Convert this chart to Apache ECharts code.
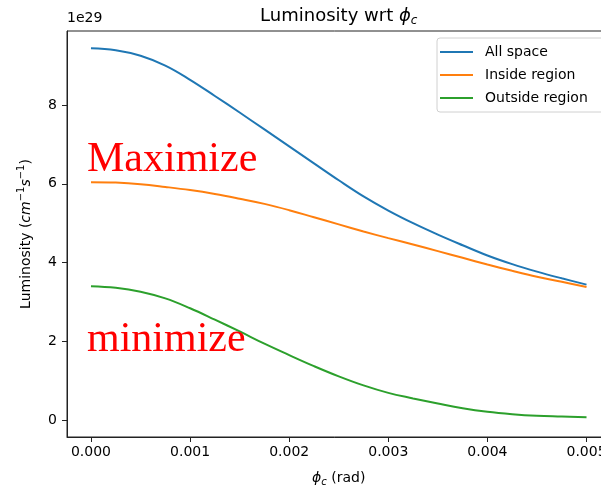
<!DOCTYPE html>
<html>
<head>
<meta charset="utf-8">
<script src="https://cdn.jsdelivr.net/npm/echarts@6/dist/echarts.min.js"></script>
<style>
html,body{margin:0;padding:0;background:#fff;}
#chart{width:601px;height:486px;}
</style>
</head>
<body>
<div id="chart"></div>
<script>
// ---- data (values in units of 1e29) ----
const phiC = [0, 0.00025, 0.0005, 0.00075, 0.001, 0.00125, 0.0015, 0.00175, 0.002, 0.00225, 0.0025,
              0.00275, 0.003, 0.00325, 0.0035, 0.00375, 0.004, 0.00425, 0.0045, 0.00475, 0.005];
const allSpace = [9.44, 9.39, 9.25, 9.00, 8.64, 8.23, 7.81, 7.38, 6.95, 6.52, 6.09,
                  5.68, 5.32, 5.00, 4.71, 4.44, 4.18, 3.96, 3.77, 3.60, 3.44];
const insideRegion = [6.04, 6.03, 5.99, 5.92, 5.84, 5.74, 5.62, 5.49, 5.33, 5.15, 4.97,
                      4.79, 4.62, 4.46, 4.29, 4.12, 3.95, 3.79, 3.64, 3.51, 3.38];
const outsideRegion = [3.40, 3.36, 3.26, 3.09, 2.84, 2.55, 2.25, 1.94, 1.65, 1.37, 1.11,
                       0.88, 0.69, 0.55, 0.42, 0.30, 0.21, 0.15, 0.11, 0.09, 0.07];
const seriesNames = ['All space', 'Inside region', 'Outside region'];
const xTicks = [0, 0.001, 0.002, 0.003, 0.004, 0.005];
const yTicks = [0, 2, 4, 6, 8];
const offsetText = '1e29';
const annotations = ['Maximize', 'minimize'];

const colors = ['#1f77b4', '#ff7f0e', '#2ca02c'];
const seriesValues = [allSpace, insideRegion, outsideRegion];

const chart = echarts.init(document.getElementById('chart'), null, {renderer: 'canvas'});
const font = 'DejaVu Sans';
const axisColor = '#222';

const option = {
  animation: false,
  backgroundColor: '#fff',
  textStyle: {fontFamily: font},
  title: {
    text: '{n|Luminosity wrt }{i|ϕ}{s|c}',
    left: 338.75,
    textAlign: 'center',
    top: 5,
    padding: 0,
    textStyle: {
      fontFamily: font, fontSize: 18, fontWeight: 'normal', color: '#000',
      rich: {
        n: {fontFamily: font, fontSize: 18, color: '#000', lineHeight: 22},
        i: {fontFamily: font, fontSize: 18, fontStyle: 'italic', color: '#000', lineHeight: 22},
        s: {fontFamily: font, fontSize: 12, fontStyle: 'italic', color: '#000', verticalAlign: 'bottom', lineHeight: 14}
      }
    }
  },
  legend: {
    data: seriesNames,
    left: 437,
    top: 38,
    orient: 'vertical',
    padding: [6, 20, 6, 3],
    itemGap: 7,
    itemWidth: 33,
    itemHeight: 2,
    icon: 'rect',
    borderColor: '#d0d0d0',
    borderWidth: 1,
    borderRadius: 3,
    backgroundColor: 'rgba(255,255,255,0.8)',
    textStyle: {fontFamily: font, fontSize: 14, color: '#000', lineHeight: 16, padding: [0, 0, 0, 7]}
  },
  grid: {
    left: 67, top: 31, width: 543.5, height: 406,
    show: true, borderColor: axisColor, borderWidth: 1,
    backgroundColor: 'transparent',
    outerBoundsMode: 'none',
    containLabel: false
  },
  xAxis: {
    type: 'value',
    min: -0.000242,
    max: 0.005242,
    splitLine: {show: false},
    axisLine: {show: true, onZero: false, lineStyle: {color: axisColor, width: 1}},
    axisTick: {show: true, inside: false, length: 5, customValues: xTicks, lineStyle: {color: axisColor}},
    axisLabel: {
      customValues: xTicks, margin: 8, fontFamily: font, fontSize: 14, color: '#000',
      showMinLabel: true, showMaxLabel: true,
      formatter: v => v.toFixed(3)
    },
    name: '{i|ϕ}{s|c}{n| (rad)}',
    nameLocation: 'middle',
    nameGap: 32,
    nameTextStyle: {
      fontFamily: font, fontSize: 14, color: '#000',
      rich: {
        i: {fontFamily: font, fontSize: 14, fontStyle: 'italic', color: '#000', lineHeight: 18},
        s: {fontFamily: font, fontSize: 10, fontStyle: 'italic', color: '#000', verticalAlign: 'bottom', lineHeight: 12},
        n: {fontFamily: font, fontSize: 14, color: '#000', lineHeight: 18}
      }
    }
  },
  yAxis: {
    type: 'value',
    min: -0.43,
    max: 9.88,
    splitLine: {show: false},
    axisLine: {show: true, onZero: false, lineStyle: {color: axisColor, width: 1}},
    axisTick: {show: true, inside: false, length: 5, customValues: yTicks, lineStyle: {color: axisColor}},
    axisLabel: {
      customValues: yTicks, margin: 10, fontFamily: font, fontSize: 14, color: '#000',
      formatter: v => String(Math.round(v))
    },
    name: '{n|Luminosity (}{i|cm}{p|−1}{i|s}{p|−1}{n|)}',
    nameLocation: 'middle',
    nameGap: 31,
    nameTextStyle: {
      fontFamily: font, fontSize: 14, color: '#000',
      rich: {
        n: {fontFamily: font, fontSize: 14, color: '#000', lineHeight: 20},
        i: {fontFamily: font, fontSize: 14, fontStyle: 'italic', color: '#000', lineHeight: 20},
        p: {fontFamily: font, fontSize: 10, color: '#000', verticalAlign: 'top', lineHeight: 12}
      }
    }
  },
  graphic: [
    {type: 'text', left: 67, top: 11, style: {text: offsetText, font: '14px "DejaVu Sans"', fill: '#000'}},
    {type: 'text', x: 87, y: 160, style: {text: annotations[0], font: '42px "Liberation Serif"', fill: '#ff0000', verticalAlign: 'middle', align: 'left'}, z: 10},
    {type: 'text', x: 87, y: 340, style: {text: annotations[1], font: '42px "Liberation Serif"', fill: '#ff0000', verticalAlign: 'middle', align: 'left'}, z: 10}
  ],
  series: seriesNames.map((name, k) => ({
    name: name,
    type: 'line',
    data: phiC.map((x, i) => [x, seriesValues[k][i]]),
    smooth: 0.4,
    showSymbol: false,
    symbol: 'none',
    lineStyle: {color: colors[k], width: 2},
    itemStyle: {color: colors[k]},
    z: 3
  }))
};
chart.setOption(option);
</script>
</body>
</html>
